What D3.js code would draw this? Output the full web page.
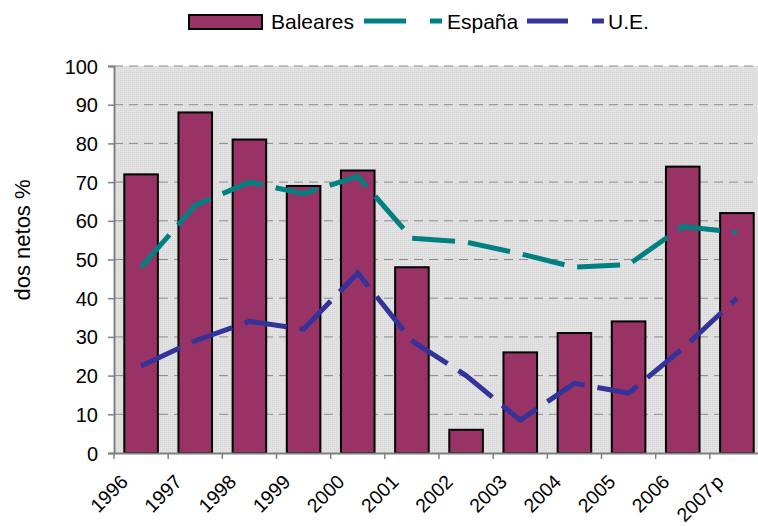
<!DOCTYPE html>
<html><head><meta charset="utf-8">
<script src="https://cdn.jsdelivr.net/npm/d3@7/dist/d3.min.js"></script>
<style>
html,body{margin:0;padding:0;background:#fff;}
svg{display:block;font-family:"Liberation Sans",Arial,sans-serif;}
</style></head>
<body>
<svg id="chart" width="758" height="526"></svg>
<script>
const years = ["1996","1997","1998","1999","2000","2001","2002","2003","2004","2005","2006","2007 p"];
const baleares = [72, 88, 81, 69, 73, 48, 6, 26, 31, 34, 74, 62];
const espana = [48, 64, 70, 67, 71.5, 55.5, 54.5, 51.5, 48, 48.7, 58.5, 57];
const ue = [22.5, 29, 34, 32, 46.5, 29, 20, 8.5, 18, 15.5, 27, 40];
const yTicks = [0,10,20,30,40,50,60,70,80,90,100];
const seriesNames = ["Baleares","España","U.E."];

const svg = d3.select("#chart");
const L = 114, R = 764, T = 66, B = 453;
const x = d3.scaleBand().domain(years).range([L, R]).paddingInner(0.38).paddingOuter(0.19);
const y = d3.scaleLinear().domain([0, 100]).range([B, T]);
const step = x.step();
const cx = d => x(d) + x.bandwidth() / 2;

// background pattern
const defs = svg.append("defs");
const pat = defs.append("pattern").attr("id","dots").attr("width",2).attr("height",2).attr("patternUnits","userSpaceOnUse");
pat.append("rect").attr("width",2).attr("height",2).attr("fill","#e2e2e2");
pat.append("rect").attr("width",1).attr("height",1).attr("fill","#d6d6d6");
svg.append("rect").attr("x",L).attr("y",T).attr("width",R-L).attr("height",B-T).attr("fill","url(#dots)");

// grid
svg.append("g").selectAll("line").data(yTicks.filter(v=>v>0)).join("line")
  .attr("x1",L).attr("x2",R).attr("y1",d=>y(d)).attr("y2",d=>y(d))
  .attr("stroke","#8c8c8c").attr("stroke-width",1).attr("stroke-dasharray","9,6");

// bars
svg.append("g").selectAll("rect").data(years).join("rect")
  .attr("x",d=>x(d)).attr("width",x.bandwidth())
  .attr("y",(d,i)=>y(baleares[i])).attr("height",(d,i)=>B-y(baleares[i]))
  .attr("fill","#993366").attr("stroke","#000").attr("stroke-width",2);

// lines
const line = d3.line().x(d=>cx(d[0])).y(d=>y(d[1]));
svg.append("path").datum(years.map((d,i)=>[d,espana[i]])).attr("d",line)
  .attr("fill","none").attr("stroke","#008080").attr("stroke-width",5).attr("stroke-dasharray","43,13");
svg.append("path").datum(years.map((d,i)=>[d,ue[i]])).attr("d",line)
  .attr("fill","none").attr("stroke","#333399").attr("stroke-width",5).attr("stroke-dasharray","43,13");

// y axis
const yAxis = d3.axisLeft(y).tickValues(yTicks).tickSize(6).tickPadding(10).tickFormat(d3.format("d"));
const gy = svg.append("g").attr("transform",`translate(${L},0)`).call(yAxis);
gy.select(".domain").attr("stroke","#808080").attr("stroke-width",2);
gy.selectAll(".tick line").attr("stroke","#808080").attr("stroke-width",1.5);
gy.selectAll("text").attr("font-size",20).attr("fill","#000").attr("font-family","Liberation Sans, Arial, sans-serif").attr("dy","0.35em");

// x axis
const xAxis = d3.axisBottom(x).tickSize(0).tickFormat(d=>d);
const gx = svg.append("g").attr("transform",`translate(0,${B})`).call(xAxis);
gx.select(".domain").attr("stroke","#808080").attr("stroke-width",2);
gx.selectAll(".tick text").attr("font-size",19.5).attr("fill","#000").attr("font-family","Liberation Sans, Arial, sans-serif")
  .attr("text-anchor","end").attr("dy",0).attr("y",0).attr("word-spacing","-3px")
  .attr("transform","translate(-12,30) rotate(-45)");
// category separator ticks
gx.append("g").selectAll("line").data(d3.range(years.length+1)).join("line")
  .attr("x1",i=>L+i*step).attr("x2",i=>L+i*step).attr("y1",0).attr("y2",6)
  .attr("stroke","#808080").attr("stroke-width",1.5);

// y label
svg.append("text").attr("transform","translate(30,240) rotate(-90)").attr("text-anchor","middle")
  .attr("font-size",22).attr("fill","#000").text("dos netos %");

// legend
const lg = svg.append("g");
lg.append("rect").attr("x",189).attr("y",15).attr("width",73).attr("height",14).attr("fill","#993366").attr("stroke","#000").attr("stroke-width",2);
lg.append("text").attr("x",271).attr("y",29).attr("font-size",21).text(seriesNames[0]);
lg.append("line").attr("x1",364).attr("x2",442).attr("y1",21).attr("y2",21).attr("stroke","#008080").attr("stroke-width",5).attr("stroke-dasharray","42,24");
lg.append("text").attr("x",447).attr("y",29).attr("font-size",21).text(seriesNames[1]);
lg.append("line").attr("x1",527).attr("x2",604).attr("y1",21).attr("y2",21).attr("stroke","#333399").attr("stroke-width",5).attr("stroke-dasharray","41,24");
lg.append("text").attr("x",608).attr("y",29).attr("font-size",21).text(seriesNames[2]);
</script>
</body></html>
